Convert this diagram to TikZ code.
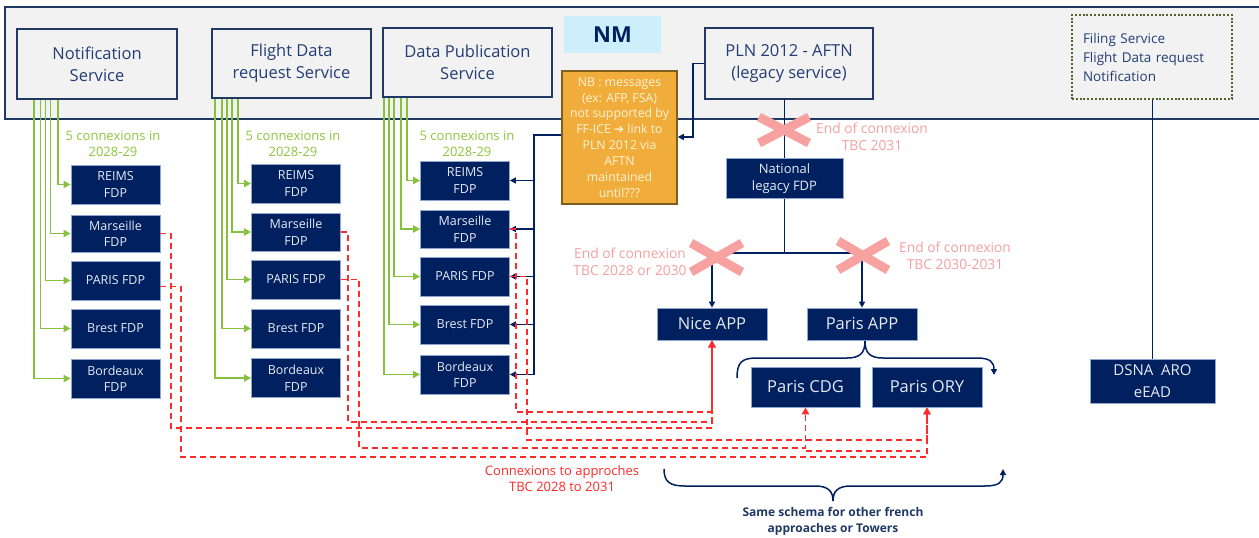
\documentclass[tikz,border=0pt]{standalone}
\usepackage{fontspec}
\setmainfont{Open Sans}
\newfontfamily\symfont{DejaVu Sans}
\usetikzlibrary{arrows.meta}
\definecolor{navy}{HTML}{002060}
\definecolor{bandline}{HTML}{1F3864}
\definecolor{bandgray}{HTML}{F2F2F2}
\definecolor{svctext}{HTML}{233E75}
\definecolor{nmblue}{HTML}{CDEFFC}
\definecolor{nborange}{HTML}{F0AD3C}
\definecolor{nbedge}{HTML}{7F5F1E}
\definecolor{nbtext}{HTML}{FFF3D6}
\definecolor{grn}{HTML}{86C13D}
\definecolor{grntext}{HTML}{8DC63F}
\definecolor{pinkx}{HTML}{F7A1A1}
\definecolor{pinktext}{HTML}{F5A0A0}
\definecolor{redd}{HTML}{FF2A2A}
\definecolor{fdpedge}{HTML}{8FA6CF}
\definecolor{fdptext}{HTML}{E6EAF2}
\definecolor{olive}{HTML}{4F6228}
\begin{document}
\begin{tikzpicture}[x=1pt,y=-1pt,
  svc/.style={draw=bandline, line width=2pt, fill=bandgray, text=svctext, align=center,
    inner sep=0pt, font=\fontsize{16.5}{22}\selectfont},
  fdp/.style={fill=navy, draw=fdpedge, line width=0.7pt, text=fdptext, align=center,
    inner sep=0pt, minimum width=89pt, minimum height=39pt, font=\fontsize{12.5}{16.5}\selectfont},
  app/.style={fill=navy, draw=fdpedge, line width=0.7pt, text=fdptext, align=center,
    inner sep=0pt, font=\fontsize{16.5}{21}\selectfont},
  grl/.style={draw=grn, line width=1.9pt, -{Triangle[length=7pt,width=7pt]}},
  nv/.style={draw=navy, line width=1.6pt},
  nva/.style={nv, -{Triangle[length=6pt,width=6pt]}},
  rd/.style={draw=redd, line width=1.7pt, dash pattern=on 6pt off 4pt},
  rda/.style={rd, -{Triangle[length=7pt,width=7pt]}},
  xmark/.style={draw=pinkx, line width=9pt},
  grnlabel/.style={text=grntext, align=center, font=\fontsize{13}{16}\selectfont},
  pinklabel/.style={text=pinktext, align=center, font=\fontsize{13.8}{17}\selectfont}]

\useasboundingbox (0,0) rectangle (1259,538);
\fill[white] (0,0) rectangle (1259,538);

% NM band
\draw[fill=bandgray, draw=bandline, line width=1.5pt] (5,7) rectangle (1262,119);

% NM services
\node[svc, minimum width=160pt, minimum height=70pt] (notif) at (97,64) {Notification\\Service};
\node[svc, minimum width=159pt, minimum height=69pt] (fdrs) at (291.5,63.5) {Flight Data\\request Service};
\node[svc, minimum width=169pt, minimum height=69pt] (dps) at (467.5,62.5) {Data Publication\\Service};
\node[fill=nmblue, minimum width=97pt, minimum height=37pt, inner sep=0pt, text=navy,
  font=\fontsize{22}{26}\selectfont\bfseries] (nm) at (612.5,34.5) {NM};
\node[svc, minimum width=168pt, minimum height=71pt] (pln) at (789,63.5) {PLN 2012 - AFTN\\(legacy service)};
\node[draw=olive, line width=2.4pt, dash pattern=on 2pt off 1.8pt, minimum width=160pt, minimum height=84pt,
  text width=138pt, align=left, inner sep=0pt, text=svctext, font=\fontsize{13.5}{19}\selectfont]
  (fil) at (1152,57) {Filing Service\\Flight Data request\\Notification};

% FDP columns
\node[fdp] (r1) at (115.5,184.5) {REIMS\\FDP};
\node[fdp, minimum height=37pt] (m1) at (115.5,233.5) {Marseille\\FDP};
\node[fdp] (p1) at (115.5,280.5) {PARIS FDP};
\node[fdp] (b1) at (115.5,328.5) {Brest FDP};
\node[fdp] (bo1) at (115.5,378.5) {Bordeaux\\FDP};

\node[fdp] (r2) at (296,183.5) {REIMS\\FDP};
\node[fdp, minimum height=38pt] (m2) at (296,232) {Marseille\\FDP};
\node[fdp] (p2) at (296,279.5) {PARIS FDP};
\node[fdp] (b2) at (296,328.5) {Brest FDP};
\node[fdp] (bo2) at (296,378) {Bordeaux\\FDP};

\node[fdp] (r3) at (465,180.5) {REIMS\\FDP};
\node[fdp, minimum height=38pt] (m3) at (465,229) {Marseille\\FDP};
\node[fdp] (p3) at (465,276.5) {PARIS FDP};
\node[fdp] (b3) at (465,324.5) {Brest FDP};
\node[fdp] (bo3) at (465,374.5) {Bordeaux\\FDP};

% green connexions from the services
\foreach \s/\o/\t in {notif/18/bo1, notif/24.5/b1, notif/29.5/p1, notif/34.5/m1, notif/42/r1,
                      fdrs/4/bo2, fdrs/10.7/b2, fdrs/15.7/p2, fdrs/20.7/m2, fdrs/27.3/r2,
                      dps/2/bo3, dps/7/b3, dps/12/p3, dps/19/m3, dps/25/r3}
  \draw[grl] ([xshift=\o pt]\s.south west) |- (\t.west);

\node[grnlabel] (g1) at (113,144) {5 connexions in\\2028-29};
\node[grnlabel] (g2) at (293,144) {5 connexions in\\2028-29};
\node[grnlabel] (g3) at (467,144) {5 connexions in\\2028-29};

% NB note
\node[fill=nborange, draw=nbedge, line width=1.5pt, minimum width=115pt, minimum height=133pt,
  inner sep=0pt, text=nbtext, align=center, font=\fontsize{12.3}{15.9}\selectfont] (nb) at (619.5,137.5)
  {NB : messages\\(ex: AFP, FSA)\\not supported by\\FF-ICE {\symfont\fontsize{12}{15.9}\selectfont ➔} link to\\PLN 2012 via\\AFTN\\maintained\\until???};

% legacy chain
\node[app, minimum width=117pt, minimum height=40pt, font=\fontsize{13}{17}\selectfont] (nat) at (784.5,178.5) {National\\legacy FDP};
\node[app, minimum width=110pt, minimum height=32pt] (nice) at (712,324) {Nice APP};
\node[app, minimum width=110pt, minimum height=32pt] (papp) at (862,324) {Paris APP};
\node[app, minimum width=109pt, minimum height=40pt] (cdg) at (805.5,387) {Paris CDG};
\node[app, minimum width=110pt, minimum height=40pt] (ory) at (927,387) {Paris ORY};
\node[app, minimum width=125pt, minimum height=44pt, font=\fontsize{15}{22}\selectfont] (dsna) at (1152.5,381) {DSNA\ \ ARO\\eEAD};

% navy links
\coordinate (bus) at (534,135);
\draw[nv] (nb.west |- bus) -- (bus) -- (bus |- bo3.east);
\foreach \t in {r3, m3, p3, b3, bo3}
  \draw[nva] (bus |- \t.east) -- (\t.east);
\coordinate (pbus) at (693,137);
\draw[nva] (pln.west) -| (pbus) -- (nb.east |- pbus);
\draw[nv] (nat.north |- pln.south) -- (nat.north);
\coordinate (split) at (784.5,253);
\draw[nv] (nat.south) -- (split);
\draw[nv] (nice.north |- split) -- (papp.north |- split);
\draw[nva] (nice.north |- split) -- (nice.north);
\draw[nva] (papp.north |- split) -- (papp.north);
\draw[nv] (dsna.north |- fil.south) -- (dsna.north);

% end-of-connexion marks
\draw[xmark] (759,117) -- (809,143) (759,143) -- (809,117);
\draw[xmark] (691,243) -- (742,272) (691,272) -- (742,243);
\draw[xmark] (838,241) -- (888,270) (838,270) -- (888,241);
\node[pinklabel] (e1) at (872,137) {End of connexion\\TBC 2031};
\node[pinklabel] (e2) at (630,261.5) {End of connexion\\TBC 2028 or 2030};
\node[pinklabel] (e3) at (955,256) {End of connexion\\TBC 2030-2031};

% red connexions to approaches
\draw[rda] (m1.east) -| (171,428) -| (nice.south);
\draw[rda] (m2.east) -| (348,422) -| (nice.south);
\draw[rda] (m3.east) -| (516,412) -| (nice.south);
\draw[rda] ([yshift=-6pt]p1.east) -| (181,457) -| (ory.south);
\draw[rda] (p2.east) -| (359,448) -| (cdg.south);
\draw[rda] (p3.east) -| (527,440) -| (ory.south);
\draw[rd] (cdg.south |- 0,451) -- (920,451);
\node[text=redd, align=center, font=\fontsize{13}{16}\selectfont] (cx) at (562,479) {Connexions to approches\\TBC 2028 to 2031};

% braces
\draw[nv, line width=1.5pt, -{Triangle[length=6pt,width=6pt]}] (737,378) .. controls (737,362) and (742,358) .. (757,358)
  -- (847,358) .. controls (860,358) and (865,353) .. (865,341)
  .. controls (865,353) and (870,358) .. (883,358) -- (977,358)
  .. controls (990,358) and (994,362) .. (994,375);
\draw[nv, line width=1.5pt, -{Triangle[length=6pt,width=6pt]}] (664,469) .. controls (664,482) and (670,486) .. (685,486)
  -- (815,486) .. controls (828,486) and (833,491) .. (833,501)
  .. controls (833,491) and (838,486) .. (851,486) -- (985,486)
  .. controls (999,486) and (1003,482) .. (1003,469);
\node[text=bandline, align=center, font=\fontsize{12}{16}\selectfont\bfseries] (same) at (833,521)
  {Same schema for other french\\approaches or Towers};
\end{tikzpicture}
\end{document}
